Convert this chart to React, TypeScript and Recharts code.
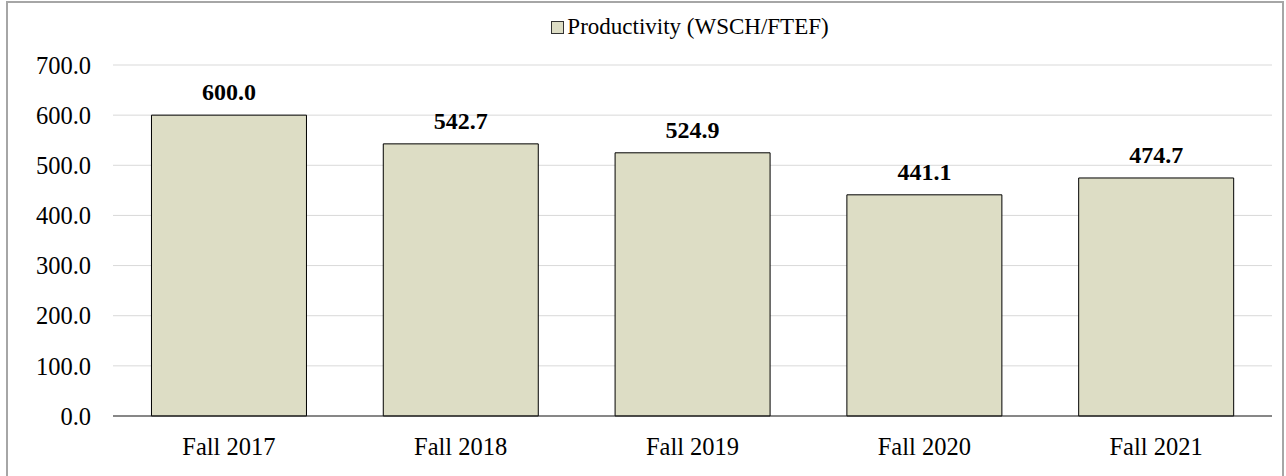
import React from "react";
import { BarChart, Bar, XAxis, YAxis, CartesianGrid, Legend, LabelList } from "recharts";

const categories = ["Fall 2017", "Fall 2018", "Fall 2019", "Fall 2020", "Fall 2021"];
const productivity = [600.0, 542.7, 524.9, 441.1, 474.7];
const yTicks = [0, 100, 200, 300, 400, 500, 600, 700];
const boundaryTicks = [0, 1, 2, 3, 4, 5];
const seriesName = "Productivity (WSCH/FTEF)";

const data = categories.map((c, i) => ({ category: c, value: productivity[i], idx: i + 0.5 }));

const FONT = '"Liberation Serif", "Times New Roman", serif';

const LegendContent = () => (
  <div style={{ display: "flex", justifyContent: "center", alignItems: "center", fontFamily: FONT, fontSize: 23, color: "#000", marginTop: -1, paddingLeft: 108 }}>
    <span style={{ display: "inline-block", width: 11, height: 11, background: "#DDDDC5", border: "1px solid #333", marginRight: 3 }} />
    <span>{seriesName}</span>
  </div>
);

export default function App() {
  return (
    <div style={{ position: "fixed", left: 0, top: 0, width: 1286, height: 476, overflow: "hidden", background: "#fff" }}>
      <div style={{ position: "absolute", left: 6, top: 1, width: 1278, height: 520, border: "2px solid #a6a6a6", boxSizing: "border-box" }} />
      <div style={{ position: "absolute", left: 0, top: 0 }}>
        <BarChart
          width={1286}
          height={476}
          data={data}
          margin={{ top: 15, right: 14, bottom: 13, left: 0 }}
          barCategoryGap="16.6%"
        >
          <CartesianGrid vertical={false} stroke="#d9d9d9" />
          <XAxis
            xAxisId="bound"
            type="number"
            dataKey="idx"
            domain={[0, 5]}
            ticks={boundaryTicks}
            tick={false}
            tickSize={7}
            height={7}
            axisLine={{ stroke: "#222" }}
            tickLine={{ stroke: "#888" }}
            allowDataOverflow
          />
          <XAxis
            xAxisId="cat"
            dataKey="category"
            type="category"
            height={40}
            axisLine={false}
            tickLine={false}
            tickSize={0}
            tickMargin={15}
            tick={{ fill: "#000", fontFamily: FONT, fontSize: 24.5 }}
          />
          <YAxis
            domain={[0, 700]}
            ticks={yTicks}
            width={113}
            axisLine={false}
            tickLine={false}
            tickSize={0}
            tickMargin={22}
            tickFormatter={(v: number) => v.toFixed(1)}
            tick={{ fill: "#000", fontFamily: FONT, fontSize: 24.5 }}
          />
          <Legend verticalAlign="top" height={50} content={<LegendContent />} />
          <Bar xAxisId="cat" dataKey="value" name={seriesName} fill="#DDDDC5" stroke="#000" strokeWidth={1} isAnimationActive={false}>
            <LabelList
              dataKey="value"
              position="top"
              offset={15}
              formatter={(v: number) => v.toFixed(1)}
              style={{ fill: "#000", fontFamily: FONT, fontSize: 24, fontWeight: "bold" }}
            />
          </Bar>
        </BarChart>
      </div>
    </div>
  );
}
